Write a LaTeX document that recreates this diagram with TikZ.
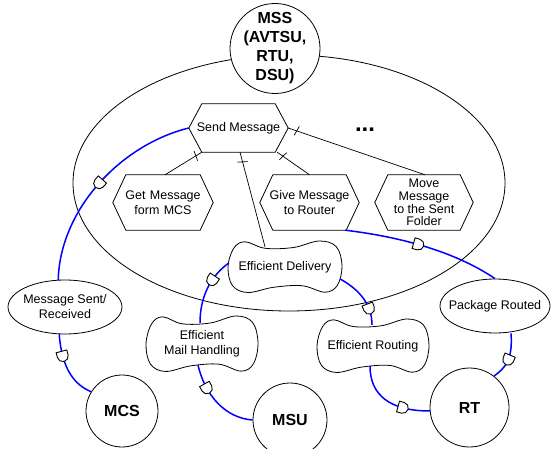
\documentclass[tikz,border=0pt]{standalone}
\usepackage{fontspec}
\setmainfont{Liberation Sans}
\usetikzlibrary{shapes.geometric,decorations.markings}
\pgfdeclarelayer{bg}
\pgfsetlayers{bg,main}

\tikzset{
  txt/.style={font=\fontsize{12.5}{14.5}\selectfont, align=center, inner sep=0pt},
  actor/.style={circle, draw, line width=0.8pt, fill=white, minimum size=#1, inner sep=0pt,
    font=\fontsize{16}{19}\selectfont\bfseries, align=center},
  goal/.style={ellipse, draw, line width=0.8pt, fill=white, minimum width=#1, minimum height=54pt,
    inner xsep=-14pt, inner ysep=0pt, font=\fontsize{12.5}{15}\selectfont, align=center},
  taskbox/.style={txt, minimum width=#1, minimum height=55pt},
  softbox/.style={txt},
  outline/.style={draw, line width=0.8pt},
  decomp/.style={draw, line width=0.7pt, postaction={decorate},
    decoration={markings, mark=at position #1 with {\draw[line width=0.7pt] (-1pt,-5pt) -- (1pt,5pt);}}},
  dep/.style={draw=blue, line width=1.5pt, postaction={decorate},
    decoration={markings, mark=at position #1 with {\draw[black, line width=0.9pt, fill=white]
      (-5pt,-5.5pt) -- (0pt,-5.5pt) arc[start angle=-90, end angle=90, radius=5.5pt] -- (-5pt,5.5pt) -- cycle;}}},
}

\newcommand\hexout[1]{\draw[outline] (#1.west) -- ([xshift=13pt]#1.north west) -- ([xshift=-13pt]#1.north east)
  -- (#1.east) -- ([xshift=-13pt]#1.south east) -- ([xshift=13pt]#1.south west) -- cycle;}
\newcommand\sgout[3]{\draw[outline, fill=white, shift={(#1.center)}, xscale=#2, yscale=#3]
  plot[smooth cycle, tension=0.6] coordinates {(-1,0) (-0.9,-0.72) (-0.7,-0.97) (-0.35,-0.72) (0.15,-0.75)
  (0.6,-1.0) (0.9,-0.78) (1,-0.05) (0.92,0.7) (0.7,0.97) (0.3,0.72) (-0.2,0.78) (-0.65,0.98) (-0.92,0.72)};}

\begin{document}
\begin{tikzpicture}[x=1pt,y=-1pt]
\useasboundingbox (0,0) rectangle (551,449);

% actors
\node[actor=90pt, inner sep=-8pt] (mss) at (275,48.5) {MSS\\(AVTSU,\\RTU,\\DSU)};
\node[actor=72pt] (mcs) at (122,411) {MCS};
\node[actor=74pt] (msu) at (290,420) {MSU};
\node[actor=79pt] (rt) at (469.5,407.5) {RT};

% tasks
\node[taskbox=99pt, minimum height=48pt] (sm) at (238.5,128) {Send Message};
\node[taskbox=100pt] (gm) at (163,202.5) {Get\hspace{0.35em}Message\\form\hspace{0.35em}MCS};
\node[taskbox=99pt] (gr) at (309.5,202.5) {Give Message\\to Router};
\node[taskbox=98pt, font=\fontsize{12.5}{12.7}\selectfont] (mm) at (424,202.5) {Move\\Message\\to the Sent\\Folder};
\hexout{sm}
\hexout{gm}
\hexout{gr}
\hexout{mm}

% softgoals
\node[softbox, minimum width=114pt, minimum height=52pt] (ed) at (285,267) {Efficient Delivery};
\node[softbox, minimum width=112pt, minimum height=56pt] (emh) at (202,344) {Efficient\\Mail Handling};
\node[softbox, minimum width=112pt, minimum height=54pt] (er) at (373,346) {Efficient Routing};

% goals
\node[goal=114pt] (msr) at (65,307) {Message Sent/\\Received};
\node[goal=110pt] (pr) at (495,306) {Package Routed};

% dots
\node[font=\fontsize{24}{24}\selectfont\bfseries, anchor=base, inner sep=0pt] (dots) at (365,132) {...};

\begin{pgfonlayer}{bg}
  \draw[outline] (289,183) ellipse [x radius=216pt, y radius=128pt];
  \sgout{ed}{57}{26}
  \sgout{emh}{56}{28}
  \sgout{er}{56}{27}
\end{pgfonlayer}

% decomposition links
\draw[decomp=7pt] ([xshift=13pt]sm.south west) -- ([xshift=2pt]gm.north);
\draw[decomp=10pt] ([xshift=1.5pt]sm.south) -- ([xshift=-20pt,yshift=-6pt]ed.north);
\draw[decomp=7pt] ([xshift=-11pt]sm.south east) -- (gr.north);
\draw[decomp=9pt] (sm.east) -- ([xshift=1pt]mm.north);

% dependency links
\draw[dep=0.5] (sm.west) .. controls (120,145) and (60,210) .. (msr.104);
\draw[dep=0.32] (msr.258) .. controls (62,370) and (75,385) .. (mcs.148);
\draw[dep=0.35] ([xshift=1pt,yshift=4pt]ed.west) .. controls (212,275) and (200,295) .. ([xshift=-2pt,yshift=-7pt]emh.north);
\draw[dep=0.3] ([xshift=-4pt,yshift=7pt]emh.south) .. controls (205,395) and (225,418) .. (msu.west);
\draw[dep=0.72] ([xshift=-2pt,yshift=-12pt]ed.east) .. controls (360,290) and (372,305) .. ([xshift=-1pt,yshift=-6pt]er.north);
\draw[dep=0.68] ([xshift=-3pt,yshift=7pt]er.south) .. controls (370,395) and (390,411) .. (rt.185);
\draw[dep=0.47] ([xshift=-14pt]gr.south east) .. controls (410,238) and (460,255) .. (pr.north);
\draw[dep=0.55] ([xshift=16pt]pr.south) .. controls (513,360) and (505,368) .. (rt.52);
\end{tikzpicture}
\end{document}
